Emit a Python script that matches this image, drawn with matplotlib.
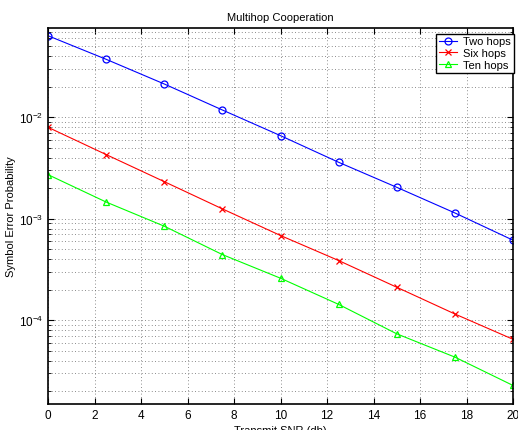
import numpy as np
import matplotlib.pyplot as plt
from matplotlib.ticker import LogLocator, NullFormatter

plt.rcParams['font.family'] = ['Liberation Sans', 'DejaVu Sans']
plt.rcParams['mathtext.fontset'] = 'custom'
plt.rcParams['mathtext.rm'] = 'Liberation Sans'

# values
snr = [0, 2.5, 5, 7.5, 10, 12.5, 15, 17.5, 20]
two_hops = [0.0637, 0.0373, 0.0213, 0.0118, 0.00659, 0.00360, 0.00204, 0.00114, 0.000614]
six_hops = [0.00797, 0.00429, 0.00232, 0.00125, 0.000683, 0.000387, 0.000211, 0.000115, 6.47e-5]
ten_hops = [0.00272, 0.00146, 0.000844, 0.000443, 0.000259, 0.000143, 7.33e-5, 4.32e-5, 2.27e-5]

fig = plt.figure(figsize=(5.18, 4.31), dpi=100)
ax = fig.add_axes([48/518, 26/431, 465/518, 376/431])

ax.semilogy(snr, two_hops, 'o-', color='blue', lw=0.8, ms=5, mfc='none', mew=0.9, label='Two hops')
ax.semilogy(snr, six_hops, 'x-', color='red', lw=0.8, ms=4, mew=0.9, label='Six hops')
ax.semilogy(snr, ten_hops, '^-', color='#00ff00', lw=0.8, ms=5, mfc='none', mew=0.9, label='Ten hops')

ax.set_xlim(0, 20)
ax.set_ylim(1.49e-5, 0.0759)
ax.set_xticks(np.arange(0, 21, 2))
ax.yaxis.set_major_locator(LogLocator(base=10, numticks=10))
ax.yaxis.set_minor_locator(LogLocator(base=10, subs=np.arange(2, 10), numticks=20))
ax.yaxis.set_minor_formatter(NullFormatter())

ax.grid(True, which='major', ls=(0, (1, 3)), color='0.4', lw=0.6)
ax.yaxis.grid(True, which='minor', ls=(0, (1, 3)), color='0.4', lw=0.6)

ax.tick_params(which='both', direction='in', top=True, right=True, labelsize=8.5)
ax.tick_params(which='major', length=4, width=0.8)
ax.tick_params(which='minor', length=2, width=0.6)
for s in ax.spines.values():
    s.set_linewidth(1.2)

ax.set_title('Multihop Cooperation', fontsize=8, pad=6)
ax.set_xlabel('Transmit SNR (db)', fontsize=8, labelpad=3)
ax.set_ylabel('Symbol Error Probability', fontsize=8, labelpad=2)

leg = ax.legend(loc='upper right', bbox_to_anchor=(1.002, 0.985), fontsize=8,
                fancybox=False, framealpha=1, edgecolor='black',
                handlelength=1.6, handletextpad=0.6, borderpad=0.25,
                labelspacing=0.15, borderaxespad=0)
leg.get_frame().set_linewidth(1.0)

plt.savefig('out.png', dpi=100)
